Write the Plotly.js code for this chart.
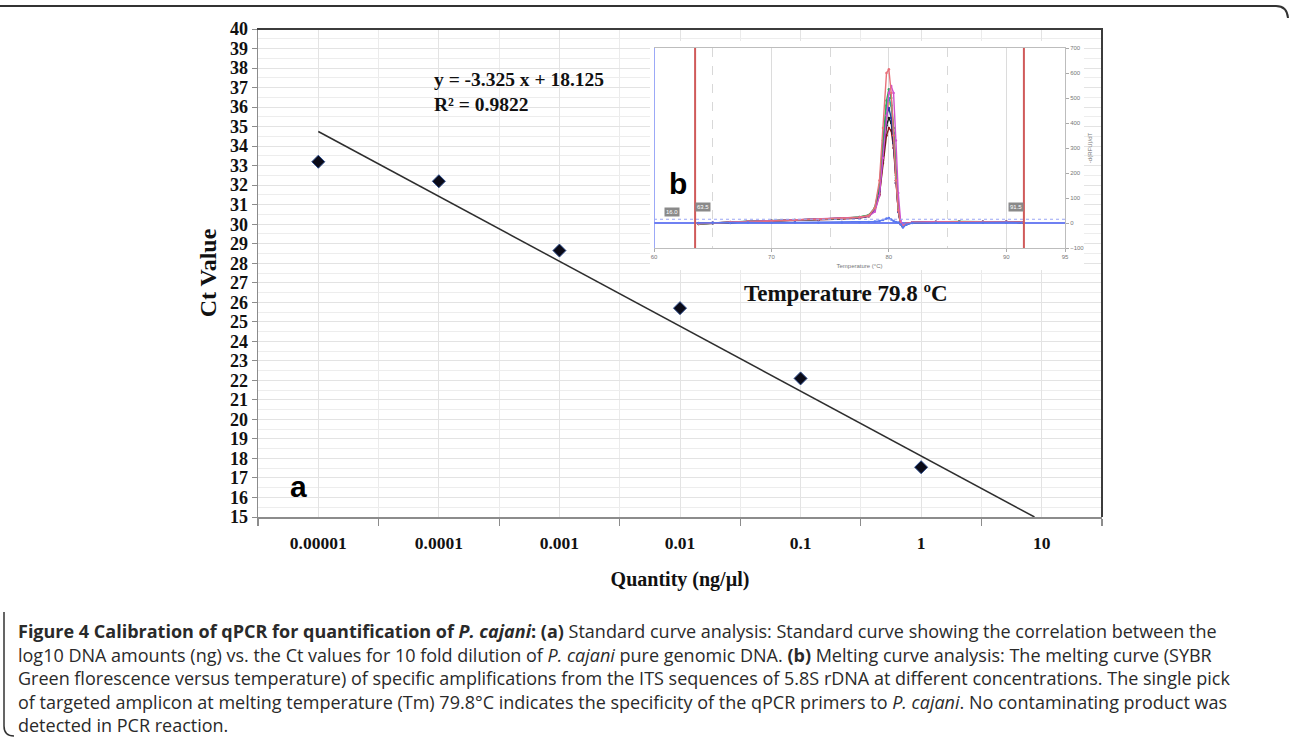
<!DOCTYPE html>
<html>
<head>
<meta charset="utf-8">
<script src="https://cdn.plot.ly/plotly-3.0.1.min.js"></script>
<style>html,body{margin:0;padding:0;background:#fff;}#chart{width:1289px;height:737px;}</style>
</head>
<body>
<div id="chart"></div>
<script>
// ---------- data ----------
var quantities = [0.00001, 0.0001, 0.001, 0.01, 0.1, 1, 10];
var quantityLabels = ["0.00001", "0.0001", "0.001", "0.01", "0.1", "1", "10"];
var sampleQuantities = [0.00001, 0.0001, 0.001, 0.01, 0.1, 1];
var ctValues = [33.2, 32.2, 28.65, 25.7, 22.1, 17.55];
var fitSlope = -3.325;
var fitIntercept = 18.125;
var fitR2 = 0.9822;
var fitLogRange = [-5, 0.94];
var meltTemp = 79.8;

// melting curve (inset b): temperature and -d(RFU)/dT
var meltT = [63.8, 65, 66.5, 68, 70, 72, 74, 76, 77.5, 78.3, 78.8, 79.2, 79.5, 79.8, 80.0, 80.2, 80.4, 80.6, 80.8, 81.0, 81.2, 81.5, 82, 84, 86, 88, 90, 91.3];
var meltRed     = [-3, 0, 3, 6, 8, 11, 14, 18, 22, 30, 60, 170, 380, 600, 615, 520, 350, 170, 50, -5, -12, -3, 2, 4, 5, 4, 5, 3];
var meltMagenta = [-2, 1, 4, 6, 9, 12, 15, 19, 23, 28, 45, 110, 260, 430, 520, 548, 520, 330, 120, 10, -10, -2, 3, 5, 4, 5, 4, 3];
var meltGreen   = [-4, 0, 3, 7, 9, 12, 15, 18, 24, 32, 60, 150, 330, 490, 535, 500, 380, 190, 60, -2, -14, -4, 2, 4, 6, 5, 4, 3];
var meltTeal    = [-3, 1, 3, 6, 9, 12, 14, 18, 23, 31, 58, 140, 310, 470, 500, 470, 360, 180, 55, -3, -13, -3, 2, 5, 5, 4, 4, 3];
var meltYellow  = [-2, 0, 4, 7, 9, 11, 15, 19, 24, 30, 48, 110, 250, 420, 480, 470, 380, 200, 60, 0, -11, -3, 2, 4, 5, 5, 4, 3];
var meltNavy    = [-3, -1, 2, 5, 8, 10, 13, 17, 21, 28, 52, 130, 290, 430, 460, 420, 320, 160, 45, -4, -15, -5, 1, 3, 5, 4, 5, 2];
var meltBlack   = [-2, 0, 3, 6, 8, 11, 14, 17, 22, 29, 55, 125, 270, 390, 420, 400, 320, 170, 50, -3, -13, -4, 2, 4, 5, 4, 4, 3];
var meltDarkRed = [-4, 0, 2, 5, 7, 10, 13, 16, 20, 27, 50, 115, 240, 350, 380, 370, 300, 160, 50, -4, -14, -4, 1, 3, 4, 4, 5, 2];
var meltNTC     = [0, 1, 0, 2, 1, 2, 1, 2, 3, 4, 6, 8, 12, 18, 20, 14, 8, 4, 2, -5, -18, -6, 0, 1, 2, 1, 2, 1];
var meltBounds = [63.5, 91.5];
var meltThreshold = 15;
var meltXTicks = [60, 70, 80, 90, 95];
var meltXMinor = [65, 75, 85];

var captionLines = [
  "<b>Figure 4 Calibration of qPCR for quantification of <i>P. cajani</i>: (a)</b> Standard curve analysis: Standard curve showing the correlation between the",
  "log10 DNA amounts (ng) vs. the Ct values for 10 fold dilution of <i>P. cajani</i> pure genomic DNA. <b>(b)</b> Melting curve analysis: The melting curve (SYBR",
  "Green florescence versus temperature) of specific amplifications from the ITS sequences of 5.8S rDNA at different concentrations. The single pick",
  "of targeted amplicon at melting temperature (Tm) 79.8°C indicates the specificity of the qPCR primers to <i>P. cajani</i>. No contaminating product was",
  "detected in PCR reaction."
];

// ---------- helpers (pixel -> paper) ----------
var W = 1289, H = 737;
function px(x){ return x / W; }
function py(y){ return 1 - y / H; }

var catPos = quantities.map(function(q){ return Math.log10(q); });
var catBounds = catPos.map(function(v){ return v - 0.5; }).concat([catPos[catPos.length-1] + 0.5]);
var sampleX = sampleQuantities.map(function(q){ return Math.log10(q); });
var fitY = fitLogRange.map(function(x){ return fitSlope * x + fitIntercept; });

var serif = "Liberation Serif";
var traces = [];

traces.push({
  x: fitLogRange, y: fitY, xaxis: 'x', yaxis: 'y', type: 'scatter', mode: 'lines',
  line: {color: '#2e2e2e', width: 1.5}, hoverinfo: 'skip'
});
traces.push({
  x: sampleX, y: ctValues, xaxis: 'x', yaxis: 'y', type: 'scatter', mode: 'markers',
  marker: {symbol: 'diamond', size: 10, color: '#0b0b18', line: {color: '#2a4a8a', width: 1}}
});
// white backing box for the inset
traces.push({x: [], y: [], xaxis: 'x2', yaxis: 'y2', type: 'scatter', mode: 'markers'});

var meltSeries = [
  [meltYellow, '#c8d048'], [meltTeal, '#2fa5a0'], [meltDarkRed, '#8b1a1a'],
  [meltBlack, '#1a1a1a'], [meltNavy, '#283c9c'], [meltGreen, '#2fae58'],
  [meltMagenta, '#d050d0'], [meltRed, '#e8707a'], [meltNTC, '#5a78f0']
];
meltSeries.forEach(function(s){
  traces.push({
    x: meltT, y: s[0], xaxis: 'x3', yaxis: 'y3', type: 'scatter', mode: 'lines+markers',
    line: {color: s[1], width: 1.4}, marker: {color: s[1], size: 2.5}
  });
});

var layout = {
  width: W, height: H,
  margin: {l: 0, r: 0, t: 0, b: 0},
  paper_bgcolor: '#ffffff', plot_bgcolor: '#ffffff',
  showlegend: false,
  xaxis: {
    domain: [px(258), px(1102)], range: [catBounds[0], catBounds[catBounds.length-1]],
    tickmode: 'array', tickvals: catPos, ticktext: quantityLabels, ticks: '',
    showgrid: true, gridcolor: '#e3e3e3', gridwidth: 1, zeroline: false,
    showline: true, linecolor: '#8c8c8c', linewidth: 1.5,
    tickfont: {family: serif, size: 17.5, weight: 'bold', color: '#111'},
    ticklabelstandoff: 9,
    minor: {tickmode: 'array', tickvals: catBounds, ticks: 'outside', ticklen: 7, tickcolor: '#8c8c8c', tickwidth: 1.2, showgrid: true, gridcolor: '#ebebeb'},
    title: {text: 'Quantity (ng/µl)', font: {family: serif, size: 20, weight: 'bold', color: '#111'}, standoff: 20},
    fixedrange: true
  },
  yaxis: {
    domain: [py(517), py(29)], range: [15, 40],
    tickmode: 'linear', tick0: 15, dtick: 1, ticks: 'outside', ticklen: 5, tickcolor: '#8c8c8c',
    showgrid: true, gridcolor: '#e3e3e3', zeroline: false,
    showline: true, linecolor: '#8c8c8c', linewidth: 1.5,
    tickfont: {family: serif, size: 18, weight: 'bold', color: '#111'},
    minor: {dtick: 0.5, showgrid: true, gridcolor: '#ededed'},
    title: {text: 'Ct Value', font: {family: serif, size: 24, weight: 'bold', color: '#111'}, standoff: 6},
    fixedrange: true
  },
  xaxis2: {domain: [px(650), px(1084)], anchor: 'y2', range: [0, 1], visible: false, fixedrange: true},
  yaxis2: {domain: [py(270), py(41)], anchor: 'x2', range: [0, 1], visible: false, fixedrange: true},
  xaxis3: {
    domain: [px(654), px(1065)], anchor: 'y3', range: [60, 95],
    tickmode: 'array', tickvals: meltXTicks, ticks: 'outside', ticklen: 3, tickcolor: '#aaa',
    showgrid: true, gridcolor: '#dcdcdc', zeroline: false,
    showline: true, linecolor: '#bdbdbd', linewidth: 1, mirror: true,
    tickfont: {family: 'Liberation Sans', size: 6, color: '#777'},
    minor: {tickmode: 'array', tickvals: meltXMinor, showgrid: true, gridcolor: '#d8d8d8', griddash: 'dash'},
    title: {text: 'Temperature (°C)', font: {family: 'Liberation Sans', size: 6, color: '#777'}, standoff: 4},
    fixedrange: true
  },
  yaxis3: {
    domain: [py(248), py(48)], anchor: 'x3', side: 'right', range: [-100, 700],
    tickmode: 'linear', tick0: -100, dtick: 100, ticks: 'outside', ticklen: 3, tickcolor: '#aaa',
    showgrid: false, zeroline: true, zerolinecolor: '#6f80f2', zerolinewidth: 1.5,
    showline: true, linecolor: '#bdbdbd',
    tickfont: {family: 'Liberation Sans', size: 6, color: '#777'},
    title: {text: '-d(RFU)/dT', font: {family: 'Liberation Sans', size: 6, color: '#777'}, standoff: 4},
    fixedrange: true
  },
  shapes: [
    {type: 'line', xref: 'paper', yref: 'paper', x0: px(257), x1: px(1103), y0: py(29), y1: py(29), line: {color: '#3c3c3c', width: 2}},
    {type: 'line', xref: 'paper', yref: 'paper', x0: px(1102), x1: px(1102), y0: py(29), y1: py(517), line: {color: '#3c3c3c', width: 2}},
    {type: 'line', xref: 'x3', yref: 'y3 domain', x0: 60, x1: 60, y0: 0, y1: 1, line: {color: '#7b8cf5', width: 1.5}},
    {type: 'line', xref: 'x3', yref: 'y3', x0: 60, x1: 95, y0: meltThreshold, y1: meltThreshold, line: {color: '#9aa6f5', width: 1, dash: 'dot'}},
    {type: 'line', xref: 'x3', yref: 'y3 domain', x0: meltBounds[0], x1: meltBounds[0], y0: 0, y1: 1, line: {color: '#d05a5a', width: 2}},
    {type: 'line', xref: 'x3', yref: 'y3 domain', x0: meltBounds[1], x1: meltBounds[1], y0: 0, y1: 1, line: {color: '#d05a5a', width: 2}},
    {type: 'path', xref: 'paper', yref: 'paper', layer: 'above',
     path: 'M 0 ' + py(6) + ' L ' + px(1276) + ' ' + py(6) + ' Q ' + px(1287) + ' ' + py(6) + ' ' + px(1288) + ' ' + py(18),
     line: {color: '#333', width: 2}},
    {type: 'path', xref: 'paper', yref: 'paper', layer: 'above',
     path: 'M ' + px(4) + ' ' + py(612) + ' L ' + px(4) + ' ' + py(726) + ' Q ' + px(4) + ' ' + py(736) + ' ' + px(14) + ' ' + py(736),
     line: {color: '#333', width: 1.5}}
  ],
  annotations: [
    {xref: 'paper', yref: 'paper', x: px(432), y: py(80), xanchor: 'left', yanchor: 'middle', showarrow: false,
     text: 'y = ' + fitSlope + ' x + ' + fitIntercept, font: {family: serif, size: 19.5, weight: 'bold', color: '#111'}},
    {xref: 'paper', yref: 'paper', x: px(432), y: py(104), xanchor: 'left', yanchor: 'middle', showarrow: false,
     text: 'R² = ' + fitR2, font: {family: serif, size: 19.5, weight: 'bold', color: '#111'}},
    {xref: 'paper', yref: 'paper', x: px(846), y: py(293), xanchor: 'center', yanchor: 'middle', showarrow: false,
     text: 'Temperature ' + meltTemp + ' ºC', font: {family: serif, size: 23, weight: 'bold', color: '#111'}},
    {xref: 'paper', yref: 'paper', x: px(298), y: py(486), xanchor: 'center', yanchor: 'middle', showarrow: false,
     text: 'a', font: {family: 'Liberation Sans', size: 30, weight: 'bold', color: '#000'}},
    {xref: 'paper', yref: 'paper', x: px(678), y: py(184), xanchor: 'center', yanchor: 'middle', showarrow: false,
     text: 'b', font: {family: 'Liberation Sans', size: 30, weight: 'bold', color: '#000'}},
    {xref: 'x3', yref: 'y3', x: 61.5, y: 45, xanchor: 'center', yanchor: 'middle', showarrow: false,
     text: '16.0', bgcolor: '#8a8a8a', font: {family: 'Liberation Sans', size: 6, color: '#fff'}, borderpad: 1},
    {xref: 'x3', yref: 'y3', x: 64.2, y: 65, xanchor: 'center', yanchor: 'middle', showarrow: false,
     text: String(meltBounds[0]), bgcolor: '#8a8a8a', font: {family: 'Liberation Sans', size: 6, color: '#fff'}, borderpad: 1},
    {xref: 'x3', yref: 'y3', x: 90.8, y: 65, xanchor: 'center', yanchor: 'middle', showarrow: false,
     text: String(meltBounds[1]), bgcolor: '#8a8a8a', font: {family: 'Liberation Sans', size: 6, color: '#fff'}, borderpad: 1}
  ]
};

var captionY = [631, 654.5, 678, 701.5, 725];
captionLines.forEach(function(t, i){
  layout.annotations.push({
    xref: 'paper', yref: 'paper', x: px(18), y: py(captionY[i]), xanchor: 'left', yanchor: 'middle',
    showarrow: false, text: t, borderpad: 0, borderwidth: 0,
    font: {family: 'Open Sans', size: 18, color: '#2a2a2a'}
  });
});

Plotly.newPlot('chart', traces, layout, {displayModeBar: false, staticPlot: true});
</script>
</body>
</html>
